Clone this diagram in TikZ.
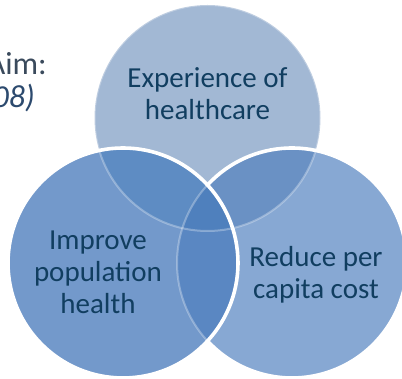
\documentclass[tikz,border=0pt]{standalone}
\usepackage{fontspec}
\setmainfont{Carlito}
\begin{document}
\begin{tikzpicture}[x=1pt,y=1pt,
  label/.style={inner sep=0pt, align=center, text=labelblue,
    font=\fontsize{29}{32}\selectfont},
  aimtext/.style={inner sep=0pt, anchor=base east, text=aimgray,
    font=\fontsize{32}{36}\selectfont},
  rim/.style={draw=white, line width=3.6pt},
  faintrim/.style={draw=white, line width=2pt, draw opacity=0.3}]
\definecolor{labelblue}{HTML}{113E60}
\definecolor{aimgray}{HTML}{3A4A5C}
\definecolor{aimblue}{HTML}{2C4A6E}
\definecolor{cT}{HTML}{A2B8D4}
\definecolor{cL}{HTML}{7399CB}
\definecolor{cR}{HTML}{87A8D3}
\definecolor{cTL}{HTML}{5E8CC3}
\definecolor{cTR}{HTML}{6A91C4}
\definecolor{cLR}{HTML}{5A87C2}
\definecolor{cTLR}{HTML}{4F80BD}
\useasboundingbox (0,0) rectangle (402,379);

% circle centres
\coordinate (top) at (207.5,261);
\coordinate (left) at (123,116);
\coordinate (right) at (292,116);
\def\rT{113pt}
\def\rS{115pt}

% single-circle areas
\fill[cT] (top) circle[radius=\rT];
\fill[cR] (right) circle[radius=\rS];
\fill[cL] (left) circle[radius=\rS];
% pairwise overlaps
\begin{scope}
  \clip (top) circle[radius=\rT];
  \fill[cTR] (right) circle[radius=\rS];
  \fill[cTL] (left) circle[radius=\rS];
\end{scope}
\begin{scope}
  \clip (left) circle[radius=\rS];
  \fill[cLR] (right) circle[radius=\rS];
\end{scope}
% triple overlap
\begin{scope}
  \clip (top) circle[radius=\rT];
  \clip (left) circle[radius=\rS];
  \fill[cTLR] (right) circle[radius=\rS];
\end{scope}

% rims: faint where covered, solid where on top
\draw[faintrim] (top) circle[radius=\rT];
\draw[faintrim] (right) circle[radius=\rS];
\draw[rim] (right) ++(137:\rS) arc[start angle=137, end angle=-137, radius=\rS];
\draw[rim] (left) circle[radius=\rS];

% labels
\node[label] (exp) at (207.5,285.5) {Experience of\\healthcare};
\node[label] (pop) at (98,107) {Improve\\population\\health};
\node[label] (cost) at (316,104.5) {Reduce per\\capita cost};

\node[aimtext] (aim) at (47,304) {Aim:};
\node[aimtext, text=aimblue, font=\fontsize{32}{36}\selectfont\itshape] (year) at (35,271) {08)};
\end{tikzpicture}
\end{document}
